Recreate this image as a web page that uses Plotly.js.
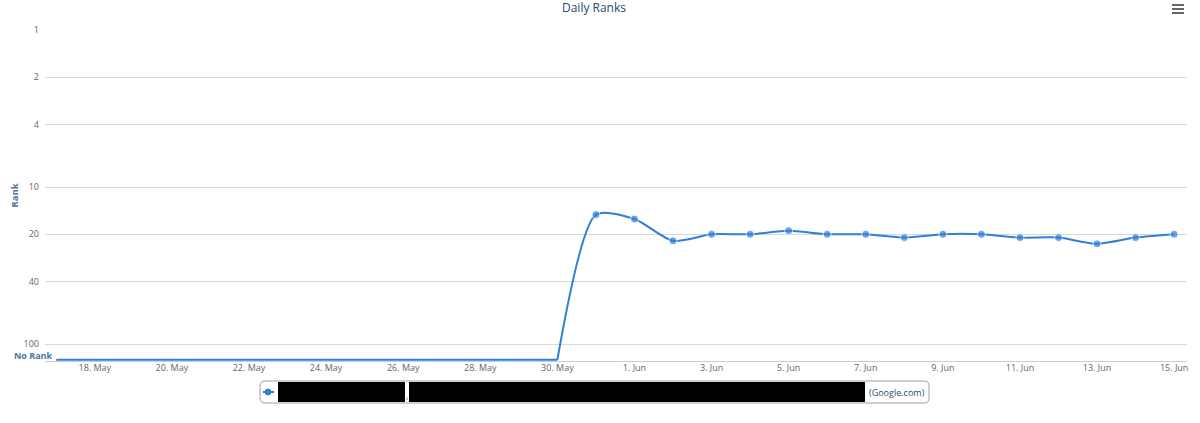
<!DOCTYPE html>
<html>
<head>
<meta charset="utf-8">
<script src="https://cdn.plot.ly/plotly-3.0.1.min.js"></script>
<style>
  html, body { margin: 0; padding: 0; background: #fff; }
  #chart { width: 1200px; height: 423px; }
</style>
</head>
<body>
<div id="chart"></div>
<script>
// Daten (Ranking pro Tag, null = kein Ranking)
const tage = [
  "2014-05-17", "2014-05-18", "2014-05-19", "2014-05-20", "2014-05-21",
  "2014-05-22", "2014-05-23", "2014-05-24", "2014-05-25", "2014-05-26",
  "2014-05-27", "2014-05-28", "2014-05-29", "2014-05-30", "2014-05-31",
  "2014-06-01", "2014-06-02", "2014-06-03", "2014-06-04", "2014-06-05",
  "2014-06-06", "2014-06-07", "2014-06-08", "2014-06-09", "2014-06-10",
  "2014-06-11", "2014-06-12", "2014-06-13", "2014-06-14", "2014-06-15",
];
const raenge = [
  null, null, null, null, null, null, null, null, null, null, null, null, null, null,
  15, 16, 22, 20, 20, 19, 20, 20, 21, 20, 20, 21, 21, 23, 21, 20,
];

const xTickTage = [
  "2014-05-18", "2014-05-20", "2014-05-22", "2014-05-24", "2014-05-26",
  "2014-05-28", "2014-05-30", "2014-06-01", "2014-06-03", "2014-06-05",
  "2014-06-07", "2014-06-09", "2014-06-11", "2014-06-13", "2014-06-15",
];
const xTickTexte = [
  "18. May", "20. May", "22. May", "24. May", "26. May", "28. May", "30. May",
  "1. Jun", "3. Jun", "5. Jun", "7. Jun", "9. Jun", "11. Jun", "13. Jun", "15. Jun",
];
const yTickWerte = [1, 2, 4, 10, 20, 40, 100];
const yTickTexte = ["1", "2", "4", "10", "20", "40", "100"];

const serienName = "(Google.com)";
const KEIN_RANG = 126;   // Wert, auf dem "No Rank" gezeichnet wird
const Y_UNTEN = 128.3;   // unteres Ende der (umgekehrten) Log-Achse

const blau = "#2f7ed8";

// Plotbereich in Pixeln, um Legende & Deko in paper-Koordinaten zu setzen
const L = 45, R = 1187, T = 30, B = 361;
const px = (x) => (x - L) / (R - L);
const py = (y) => (B - y) / (B - T);

function rundesRechteck(x0, y0, x1, y1, r) {
  const p = (x, y) => px(x) + "," + py(y);
  return "M" + p(x0 + r, y0) + " L" + p(x1 - r, y0) + " Q" + p(x1, y0) + " " + p(x1, y0 + r) +
    " L" + p(x1, y1 - r) + " Q" + p(x1, y1) + " " + p(x1 - r, y1) +
    " L" + p(x0 + r, y1) + " Q" + p(x0, y1) + " " + p(x0, y1 - r) +
    " L" + p(x0, y0 + r) + " Q" + p(x0, y0) + " " + p(x0 + r, y0) + " Z";
}

// letzter Tag ohne Ranking: dort teilt sich die Linie (flach | Spline)
const ersterRang = raenge.findIndex((r) => r !== null);
const yWerte = raenge.map((r) => (r === null ? KEIN_RANG : r));

// flacher Teil ohne Ranking (gerade Linie, keine Punkte)
const traceOhne = {
  x: tage.slice(0, ersterRang),
  y: yWerte.slice(0, ersterRang),
  type: "scatter",
  mode: "lines",
  line: { color: blau, width: 2 },
  showlegend: false,
  hoverinfo: "skip",
};

// Teil mit Ranking (Spline ab dem letzten "No Rank"-Tag)
const traceMit = {
  x: tage.slice(ersterRang - 1),
  y: yWerte.slice(ersterRang - 1),
  type: "scatter",
  mode: "lines+markers",
  name: serienName,
  line: { color: blau, width: 2, shape: "spline", smoothing: 0.7 },
  marker: { color: blau, size: raenge.slice(ersterRang - 1).map((r) => (r === null ? 0 : 8)) },
  showlegend: false,
  hoverinfo: "skip",
};

const layout = {
  width: 1200,
  height: 423,
  margin: { l: L, r: 1200 - R, t: T, b: 423 - B, pad: 0 },
  paper_bgcolor: "#fff",
  plot_bgcolor: "#fff",
  font: { family: "Open Sans, sans-serif", color: "#666" },
  title: {
    text: "Daily Ranks",
    font: { size: 12, color: "#274b6d" },
    x: 0.495, xref: "container", xanchor: "center",
    y: 1 - 8 / 423, yref: "container", yanchor: "middle",
  },
  xaxis: {
    type: "date",
    range: ["2014-05-16 17:00", "2014-06-15 08:00"],
    tickmode: "array",
    tickvals: xTickTage,
    ticktext: xTickTexte,
    tickfont: { size: 9, color: "#666" },
    ticks: "",
    ticklabelstandoff: -2,
    showgrid: false,
    showline: true,
    linecolor: "#c0d0e0",
    linewidth: 1,
    zeroline: false,
    fixedrange: true,
  },
  yaxis: {
    type: "log",
    range: [Math.log10(Y_UNTEN), 0],
    tickmode: "array",
    tickvals: yTickWerte,
    ticktext: yTickTexte,
    tickfont: { size: 9, color: "#666" },
    ticks: "",
    ticklabelstandoff: 5,
    gridcolor: "#d8d8d8",
    gridwidth: 1,
    showline: false,
    zeroline: false,
    fixedrange: true,
  },
  annotations: [
    {
      text: "Rank", textangle: -90, showarrow: false,
      xref: "paper", yref: "paper", x: px(14), y: 0.5,
      xanchor: "center", yanchor: "middle",
      font: { size: 9.5, color: "#4d759e", weight: "bold" },
    },
    {
      text: "No Rank", showarrow: false,
      xref: "paper", yref: "paper", x: px(55), y: py(355),
      xanchor: "right", yanchor: "middle",
      font: { size: 9, color: "#4d759e", weight: "bold" },
    },
    {
      text: serienName, showarrow: false,
      xref: "paper", yref: "paper", x: px(867), y: py(392),
      xanchor: "left", yanchor: "middle",
      font: { size: 9, color: "#274b6d" },
    },
    {
      text: ",", showarrow: false,
      xref: "paper", yref: "paper", x: px(407), y: py(396),
      xanchor: "center", yanchor: "middle",
      font: { size: 9, color: "#274b6d" },
    },
  ],
  shapes: [
    // Legendenrahmen
    {
      type: "path", xref: "paper", yref: "paper",
      path: rundesRechteck(260, 381, 929, 403, 5),
      line: { color: "#a0a0a0", width: 1 }, fillcolor: "rgba(0,0,0,0)",
    },
    // Legendensymbol
    {
      type: "line", xref: "paper", yref: "paper",
      x0: px(263), x1: px(274), y0: py(392), y1: py(392),
      line: { color: blau, width: 2 },
    },
    {
      type: "circle", xref: "paper", yref: "paper",
      x0: px(265), x1: px(271), y0: py(395), y1: py(389),
      fillcolor: blau, line: { color: blau, width: 1 },
    },
    // geschwärzter Serienname
    {
      type: "rect", xref: "paper", yref: "paper",
      x0: px(278), x1: px(405), y0: py(382), y1: py(402),
      fillcolor: "#000", line: { width: 0 },
    },
    {
      type: "rect", xref: "paper", yref: "paper",
      x0: px(409), x1: px(865), y0: py(382), y1: py(402),
      fillcolor: "#000", line: { width: 0 },
    },
    // Menü-Symbol oben rechts
    ...[5, 9, 13].map((y) => ({
      type: "line", xref: "paper", yref: "paper",
      x0: px(1172), x1: px(1184), y0: py(y), y1: py(y),
      line: { color: "#666", width: 2 },
    })),
  ],
  hovermode: false,
  dragmode: false,
};

const config = {
  displayModeBar: false,
  displaylogo: false,
  scrollZoom: false,
  staticPlot: true,
  responsive: false,
};

Plotly.newPlot("chart", [traceOhne, traceMit], layout, config);
</script>
</body>
</html>
